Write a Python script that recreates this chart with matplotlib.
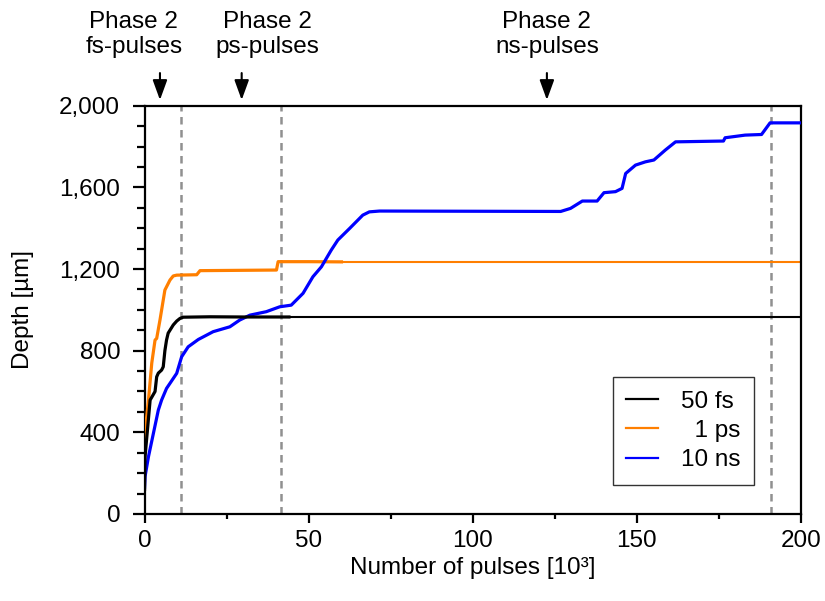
import matplotlib
matplotlib.use("Agg")
import matplotlib.pyplot as plt
from matplotlib.ticker import MultipleLocator, FuncFormatter

plt.rcParams["font.family"] = ["Liberation Sans", "DejaVu Sans"]

# measured depth curves (x in 10^3 pulses, depth in um)
fs_x = [0, 0.15, 1.7, 3.2, 3.7, 4.2, 5.2, 5.7, 6.2, 6.7, 7.2, 8.75, 9.8, 10.8, 11.8,
        20, 30, 44]
fs_y = [120, 280, 558, 600, 672, 690, 705, 721, 800, 852, 886, 926, 945, 958, 964,
        966, 965, 965]

ps_x = [0, 0.15, 1.2, 2.2, 3.2, 3.7, 4.7, 5.7, 6.2, 7.75, 8.75, 9.8, 15.9, 16.9,
        40.2, 40.7, 50, 60]
ps_y = [250, 397, 558, 739, 852, 860, 950, 1048, 1097, 1146, 1166, 1170, 1172, 1192,
        1195, 1236, 1236, 1235]

ns_x = [0, 0.15, 1.2, 2.7, 4.2, 5.2, 6.7, 7.75, 9.8, 11.3, 13.3, 16.4, 20.9, 26, 29,
        32.1, 37.1, 41.2, 44.7, 48.3, 51.3, 53.9, 56.9, 58.9, 62.5, 66.5,
        68.5, 71.6, 126.8, 129.8, 133.4, 137.9, 140, 143.5, 145.5, 146.6, 149.6, 152.6,
        155.2, 158.7, 161.8, 176.4, 176.9, 183, 188, 190.6, 200]
ns_y = [130, 183, 281, 395, 509, 558, 615, 640, 689, 770, 819, 855, 893, 917, 950,
        974, 991, 1015, 1023, 1081, 1162, 1211, 1293, 1342, 1399, 1464,
        1480, 1484, 1482, 1497, 1533, 1533, 1574, 1579, 1595, 1668, 1709, 1725,
        1734, 1783, 1823, 1827, 1843, 1856, 1859, 1916, 1916]

phase_x = [11.2, 41.5, 190.8]
arrow_x = [4.7, 29.6, 122.6]
label_x = [-3.3, 37.5, 122.6]
phase_labels = ["Phase 2\nfs-pulses", "Phase 2\nps-pulses", "Phase 2\nns-pulses"]
x_end = 200
FS = 17.5

fig = plt.figure(figsize=(8.25, 6.01), dpi=100)
ax = fig.add_axes([0.1752, 0.1448, 0.7956, 0.6793])

for xv in phase_x:
    ax.axvline(xv, color="#909090", lw=1.8, ls=(0, (3.0, 2.2)), zorder=1)

# flat extensions after the measurement ends (thinner)
ax.plot([fs_x[-1], x_end], [fs_y[-1], fs_y[-1]], color="black", lw=1.5, zorder=2)
ax.plot([ps_x[-1], x_end], [ps_y[-1], ps_y[-1]], color="#ff7f00", lw=1.5, zorder=2)

l_fs, = ax.plot(fs_x, fs_y, color="black", lw=2.3, zorder=4)
l_ps, = ax.plot(ps_x, ps_y, color="#ff7f00", lw=2.3, zorder=3)
l_ns, = ax.plot(ns_x, ns_y, color="#0000ff", lw=2.3, zorder=3)

ax.set_xlim(0, 200)
ax.set_ylim(0, 2000)
ax.xaxis.set_major_locator(MultipleLocator(50))
ax.xaxis.set_minor_locator(MultipleLocator(25))
ax.yaxis.set_major_locator(MultipleLocator(400))
ax.yaxis.set_minor_locator(MultipleLocator(100))
ax.yaxis.set_major_formatter(FuncFormatter(lambda v, p: f"{int(v):,}"))
ax.tick_params(which="both", direction="out", width=1.6, labelsize=FS,
               top=False, right=False)
ax.tick_params(axis="x", which="major", length=6.5, pad=5)
ax.tick_params(axis="x", which="minor", length=3.6)
ax.tick_params(axis="y", which="major", length=8.5, pad=9)
ax.tick_params(axis="y", which="minor", length=6)
for s in ax.spines.values():
    s.set_linewidth(1.6)

ax.set_xlabel("Number of pulses [10³]", fontsize=FS)
ax.set_ylabel("Depth [µm]", fontsize=FS)
ax.xaxis.set_label_coords(0.5, -0.106)
ax.yaxis.set_label_coords(-0.168, 0.5)

for ax_, tx, lab in zip(arrow_x, label_x, phase_labels):
    ax.annotate("", xy=(ax_, 1.014), xytext=(ax_, 1.08),
                xycoords=("data", "axes fraction"), textcoords=("data", "axes fraction"),
                arrowprops=dict(arrowstyle="-|>,head_length=0.55,head_width=0.2",
                                color="black", lw=1.5, mutation_scale=22,
                                shrinkA=0, shrinkB=0),
                annotation_clip=False)
    ax.text(tx, 1.232, lab, transform=ax.get_xaxis_transform(), ha="center",
            va="top", fontsize=FS, linespacing=1.2, clip_on=False)

leg = ax.legend([l_fs, l_ps, l_ns], ["50 fs", "  1 ps", "10 ns"], loc="lower right",
                bbox_to_anchor=(0.928, 0.072), fontsize=FS, fancybox=False,
                framealpha=1, edgecolor="#333333", handlelength=1.3,
                handletextpad=0.95, borderpad=0.55, labelspacing=0.3,
                borderaxespad=0)
leg.get_frame().set_linewidth(1.0)
for h in leg.get_lines():
    h.set_linewidth(1.6)

fig.savefig("out.png", dpi=100)
